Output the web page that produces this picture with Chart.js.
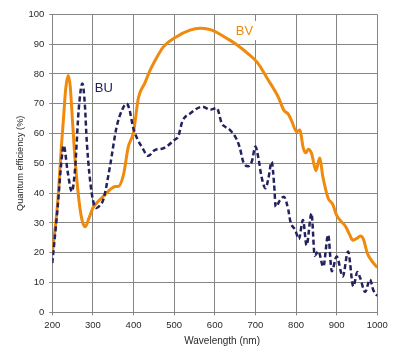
<!DOCTYPE html>
<html>
<head>
<meta charset="utf-8">
<script src="https://cdn.jsdelivr.net/npm/chart.js@4.4.0/dist/chart.umd.min.js"></script>
<style>
  html, body { margin: 0; padding: 0; background: #ffffff; }
  #wrap { width: 416px; height: 356px; position: relative; }
</style>
</head>
<body>
<div id="wrap"><canvas id="c"></canvas></div>
<script>
// ---- Data ----
const xTickLabels = [200, 300, 400, 500, 600, 700, 800, 900, 1000];
const yTickLabels = [0, 10, 20, 30, 40, 50, 60, 70, 80, 90, 100];

const bvWavelength = [200, 210, 215, 222, 227, 233, 239, 244, 248, 254, 260, 268, 275, 281, 290, 300, 315, 330, 345, 355, 362, 375, 387, 400, 412, 428, 440, 453, 473, 506, 539, 564, 585, 600, 630, 655, 680, 705, 730, 756, 770, 781, 790, 801, 809, 818, 824, 830, 838, 849, 858, 866, 879, 890, 900, 911, 922, 932, 940, 950, 958, 966, 975, 985, 1000];
const bvEfficiency = [20, 32, 40, 55, 64, 75, 79.5, 76, 68, 55, 45, 35, 30, 28.7, 31.5, 35, 37.5, 39.5, 41.5, 42.2, 42.2, 46, 55.5, 60.5, 72, 77, 81, 84.5, 89, 92.5, 94.7, 95.3, 95, 94.3, 91.9, 89.7, 87, 83.8, 78.3, 72.3, 67.8, 66.5, 64, 60.6, 61.2, 55, 53.5, 54.7, 53.4, 47.5, 51.8, 45.5, 38.3, 36.3, 32.5, 30.5, 28.8, 26, 24.2, 24.8, 25.6, 24.5, 20, 17.5, 15];

const buWavelength = [200, 213, 222, 228, 238, 248, 256, 265, 274, 280, 285, 297, 309, 318, 326, 342, 358, 372, 383, 390, 399, 410, 420, 436, 453, 473, 502, 510, 520, 540, 570, 588, 605, 617, 625, 637, 654, 662, 670, 682, 691, 700, 707, 715, 725, 732, 740, 746, 750, 760, 770, 781, 786, 798, 807, 817, 826, 838, 846, 855, 867, 879, 888, 900, 915, 928, 941, 951, 958, 970, 982, 990, 1000];
const buEfficiency = [16.5, 35, 50, 56, 47, 40.5, 48, 68, 76.8, 70, 57, 40, 35, 36, 38, 49, 62, 68, 70, 68, 62, 58, 55.6, 52.5, 54.5, 55, 58, 59, 64, 66.8, 69, 68, 68.5, 63.4, 62.3, 61.2, 58, 55, 50.5, 49, 50.5, 55.6, 52, 45.5, 41.6, 45, 50.5, 43, 35.4, 37.5, 38.8, 34.3, 30.5, 27.6, 24.6, 31, 22.5, 33.2, 19, 20.5, 15.3, 26, 13.8, 18.7, 12, 20.4, 8.7, 13.5, 11.5, 6.8, 11, 7.5, 5.5];

const seriesNames = ['BU', 'BV'];
const seriesLabelAt = [[327, 75.3], [673, 94.7]];   // data-space anchor of in-plot labels
const xTitle = 'Wavelength (nm)';
const xTitleAt = 618;                                // data-space centre of the x title
const yTitle = 'Quantum efficiency (%)';

// ---- Styles ----
const ORANGE = '#f08a0c';
const NAVY = '#23225e';
const GRID = '#858585';
const TEXT = '#2a2a2a';
const FONT = "'Liberation Sans', Arial, sans-serif";

const toPoints = (xs, ys) => xs.map((x, i) => ({ x: x, y: ys[i] }));

const seriesLabels = {
  id: 'seriesLabels',
  afterDatasetsDraw(chart) {
    const ctx = chart.ctx;
    const xs = chart.scales.x, ys = chart.scales.y;
    const colors = [NAVY, ORANGE];
    ctx.save();
    ctx.font = '13px ' + FONT;
    ctx.textAlign = 'center';
    ctx.textBaseline = 'middle';
    seriesNames.forEach((name, i) => {
      const px = xs.getPixelForValue(seriesLabelAt[i][0]);
      const py = ys.getPixelForValue(seriesLabelAt[i][1]);
      const w = ctx.measureText(name).width;
      if (i === 1) {
        ctx.fillStyle = '#ffffff';
        ctx.fillRect(px - w / 2 - 3, py - 9, w + 7, 19);
      }
      ctx.fillStyle = colors[i];
      ctx.fillText(name, px, py + 1);
    });
    // x-axis title
    ctx.font = '10px ' + FONT;
    ctx.fillStyle = TEXT;
    ctx.textBaseline = 'middle';
    ctx.fillText(xTitle, xs.getPixelForValue(xTitleAt), chart.height - 15);
    ctx.restore();
  }
};

new Chart(document.getElementById('c'), {
  type: 'line',
  data: {
    datasets: [
      {
        label: seriesNames[0],
        data: toPoints(buWavelength, buEfficiency),
        borderColor: NAVY,
        borderWidth: 2.5,
        borderDash: [5, 3],
        pointRadius: 0,
        fill: false,
        cubicInterpolationMode: 'monotone'
      },
      {
        label: seriesNames[1],
        data: toPoints(bvWavelength, bvEfficiency),
        borderColor: ORANGE,
        borderWidth: 3,
        pointRadius: 0,
        fill: false,
        cubicInterpolationMode: 'monotone'
      }
    ]
  },
  options: {
    responsive: true,
    maintainAspectRatio: false,
    animation: false,
    devicePixelRatio: 1,
    layout: { padding: { top: 14.3, right: 38.7, left: 0, bottom: 0 } },
    plugins: { legend: { display: false }, tooltip: { enabled: false } },
    scales: {
      x: {
        type: 'linear',
        min: xTickLabels[0],
        max: xTickLabels[xTickLabels.length - 1],
        afterBuildTicks: (s) => { s.ticks = xTickLabels.map(v => ({ value: v })); },
        afterFit: (s) => { s.height = 43.7; },
        grid: { color: GRID, lineWidth: 1, tickLength: 3, drawTicks: true },
        border: { color: GRID, width: 1 },
        ticks: { color: TEXT, font: { family: FONT, size: 9.5 }, padding: 4, maxRotation: 0, autoSkip: false,
                 callback: (v) => String(v) },
        title: { display: false }
      },
      y: {
        min: yTickLabels[0],
        max: yTickLabels[yTickLabels.length - 1],
        afterBuildTicks: (s) => { s.ticks = yTickLabels.map(v => ({ value: v })); },
        afterFit: (s) => { s.width = 52.3; },
        grid: { color: GRID, lineWidth: 1, tickLength: 3, drawTicks: true },
        border: { color: GRID, width: 1 },
        ticks: { color: TEXT, font: { family: FONT, size: 9.5 }, padding: 5, autoSkip: false,
                 callback: (v) => String(v) },
        title: { display: true, text: yTitle, color: TEXT, font: { family: FONT, size: 9.2 }, padding: { top: 15, bottom: 0 } }
      }
    }
  },
  plugins: [seriesLabels]
});
</script>
</body>
</html>
